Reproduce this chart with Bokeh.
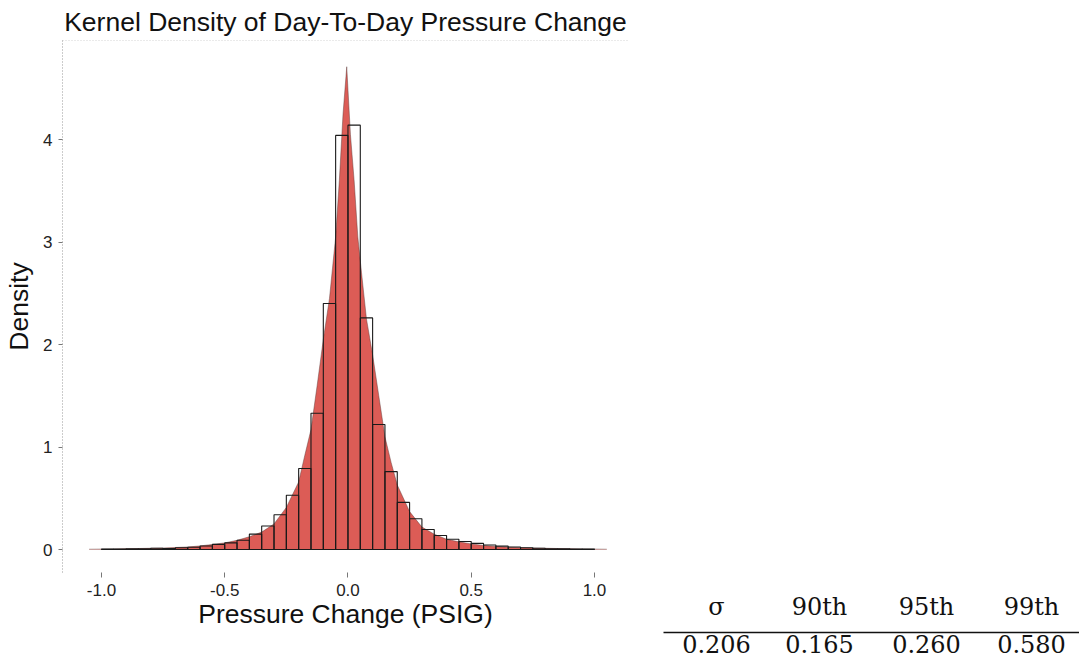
from bokeh.plotting import figure
from bokeh.models import Range1d, FixedTicker, Span, LinearAxis
from bokeh.layouts import row
from bokeh.embed import file_html
from bokeh.resources import INLINE

# ---------------- data ----------------
bin_edges = [-1.0, -0.95, -0.9, -0.85, -0.8, -0.75, -0.7, -0.65, -0.6, -0.55,
             -0.5, -0.45, -0.4, -0.35, -0.3, -0.25, -0.2, -0.15, -0.1, -0.05,
             0.0, 0.05, 0.1, 0.15, 0.2, 0.25, 0.3, 0.35, 0.4, 0.45,
             0.5, 0.55, 0.6, 0.65, 0.7, 0.75, 0.8, 0.85, 0.9, 0.95, 1.0]
hist_density = [0.004, 0.004, 0.006, 0.008, 0.012, 0.010, 0.018, 0.022, 0.035, 0.050,
                0.065, 0.090, 0.150, 0.230, 0.340, 0.530, 0.790, 1.330, 2.400, 4.040,
                4.140, 2.260, 1.220, 0.760, 0.460, 0.300, 0.195, 0.137, 0.100, 0.078,
                0.060, 0.045, 0.033, 0.025, 0.018, 0.012, 0.008, 0.006, 0.005, 0.005]

kde_x = [-1.05, -0.95, -0.85, -0.75, -0.65, -0.6, -0.55, -0.5, -0.45, -0.4,
         -0.35, -0.3, -0.25, -0.2, -0.175, -0.15, -0.125, -0.1, -0.075, -0.05,
         -0.035, -0.02, -0.005, 0.01, 0.025, 0.04, 0.055, 0.075, 0.1, 0.125,
         0.15, 0.175, 0.2, 0.25, 0.3, 0.35, 0.4, 0.45, 0.5, 0.55,
         0.6, 0.65, 0.75, 0.85, 0.95, 1.05]
kde_y = [0.003, 0.006, 0.010, 0.015, 0.025, 0.035, 0.050, 0.065, 0.090, 0.125,
         0.170, 0.250, 0.410, 0.660, 0.920, 1.170, 1.600, 2.050, 2.450, 3.050,
         3.600, 4.250, 4.710, 4.050, 3.600, 3.050, 2.700, 2.250, 1.900, 1.500,
         1.100, 0.850, 0.630, 0.370, 0.220, 0.150, 0.100, 0.075, 0.055, 0.040,
         0.030, 0.022, 0.015, 0.010, 0.006, 0.003]

x_ticks = [-1.0, -0.5, 0.0, 0.5, 1.0]
x_tick_labels = ["-1.0", "-0.5", "0.0", "0.5", "1.0"]
y_ticks = [0, 1, 2, 3, 4]

table_headers = ["σ", "90th", "95th", "99th"]
table_values = ["0.206", "0.165", "0.260", "0.580"]

# ---------------- layout constants (pixels) ----------------
H = 658
PW = 640                       # width of the chart figure
TW = 439                       # width of the table figure
FL, FT, FR, FB = 62, 40, 628, 572
X0, X1 = -1.158, 1.138
Y0, Y1 = -0.224, 4.966

FONT = "Liberation Sans"

p = figure(width=PW, height=H,
           x_range=Range1d(X0, X1), y_range=Range1d(Y0, Y1),
           output_backend="svg", toolbar_location=None,
           min_border_left=FL, min_border_right=PW - FR,
           min_border_top=FT, min_border_bottom=H - FB,
           title="Kernel Density of Day-To-Day Pressure Change")

p.title.text_font = FONT
p.title.text_font_size = "26.5px"
p.title.text_font_style = "normal"
p.title.text_color = "#111111"
p.title.align = "center"
p.title.standoff = 8

p.background_fill_color = "white"
p.border_fill_color = "white"
p.outline_line_color = None
p.xgrid.grid_line_color = None
p.ygrid.grid_line_color = None

# KDE area
p.varea(x=kde_x, y1=[0] * len(kde_x), y2=kde_y, fill_color="#DC5C56", fill_alpha=1.0)
p.line(x=kde_x, y=kde_y, line_color="#5a3a38", line_width=1, line_alpha=0.45)

# histogram outlines
p.quad(left=bin_edges[:-1], right=bin_edges[1:], bottom=[0] * len(hist_density),
       top=hist_density, fill_color=None, line_color="#1a1a1a", line_width=1.1)

# top dotted border
p.add_layout(Span(location=Y1, dimension="width", line_color="#aaaaaa",
                  line_dash="1 2", line_width=1))

xa = p.xaxis[0]
xa.ticker = FixedTicker(ticks=x_ticks)
xa.major_label_overrides = {t: l for t, l in zip(x_ticks, x_tick_labels)}
xa.axis_line_color = None
xa.major_tick_in = 0
xa.major_tick_out = 5
xa.major_tick_line_color = "#777777"
xa.minor_tick_line_color = None
xa.major_label_standoff = 6
xa.major_label_text_font = FONT
xa.major_label_text_font_size = "17px"
xa.major_label_text_color = "#222222"
xa.axis_label = "Pressure Change (PSIG)"
xa.axis_label_text_font = FONT
xa.axis_label_text_font_size = "26.5px"
xa.axis_label_text_font_style = "normal"
xa.axis_label_text_color = "#111111"
xa.axis_label_standoff = 0

ya = p.yaxis[0]
ya.ticker = FixedTicker(ticks=y_ticks)
ya.axis_line_color = "#999999"
ya.axis_line_dash = "1 2"
ya.major_tick_in = 0
ya.major_tick_out = 4
ya.major_tick_line_color = "#777777"
ya.minor_tick_line_color = None
ya.major_label_standoff = 6
ya.major_label_text_font = FONT
ya.major_label_text_font_size = "17px"
ya.major_label_text_color = "#222222"
ya.axis_label = "Density"
ya.axis_label_text_font = FONT
ya.axis_label_text_font_size = "26.5px"
ya.axis_label_text_font_style = "normal"
ya.axis_label_text_color = "#111111"
ya.axis_label_standoff = 6

# ---------------- summary table: two stacked axes under an empty frame ----------------
TL = 663                        # left end of the rule (page px)
col_px = [716, 819, 926, 1031]  # column centres (page px)
SERIF = "DejaVu Serif"

t = figure(width=TW, height=H,
           x_range=Range1d(TL, PW + TW), y_range=Range1d(0, 1),
           output_backend="svg", toolbar_location=None,
           x_axis_location=None, y_axis_location=None,
           min_border_left=TL - PW, min_border_right=0,
           min_border_top=FT, min_border_bottom=H - FB)
t.xgrid.grid_line_color = None
t.ygrid.grid_line_color = None
t.outline_line_color = None
t.background_fill_color = "white"
t.border_fill_color = "white"


def table_axis(labels, standoff, line_color, pad_label):
    ax = LinearAxis(ticker=FixedTicker(ticks=col_px))
    ax.major_label_overrides = {c: s for c, s in zip(col_px, labels)}
    ax.major_tick_in = 0
    ax.major_tick_out = 0
    ax.minor_tick_line_color = None
    ax.major_tick_line_color = None
    ax.axis_line_color = line_color
    ax.axis_line_width = 1.5
    ax.major_label_standoff = standoff
    ax.major_label_text_font = SERIF
    ax.major_label_text_font_size = "24px"
    ax.major_label_text_color = "#111111"
    if pad_label:
        ax.axis_label = "\u00a0"
        ax.axis_label_text_font_size = "6px"
        ax.axis_label_standoff = 0
    return ax


t.add_layout(table_axis(table_headers, 20, None, True), "below")
t.add_layout(table_axis(table_values, 2, "#111111", False), "below")

layout = row(p, t)
open("out.html", "w").write(file_html(layout, INLINE))
